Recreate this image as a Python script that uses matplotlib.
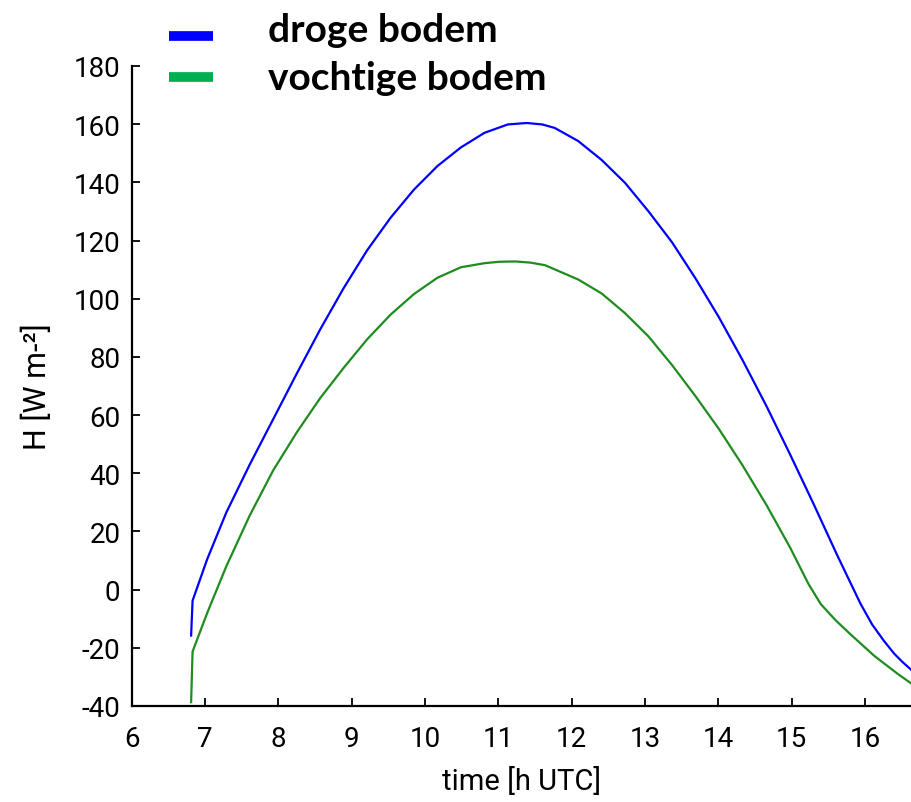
import matplotlib.pyplot as plt
from matplotlib.lines import Line2D

# droge bodem (blauw)
tijd_droog = [6.81, 6.83, 7.03, 7.29, 7.61, 7.93, 8.25, 8.57, 8.89, 9.21, 9.53, 9.85, 10.17, 10.49,
              10.81, 11.13, 11.39, 11.60, 11.77, 12.09, 12.41, 12.73, 13.05, 13.37, 13.69, 14.01,
              14.33, 14.66, 14.98, 15.30, 15.62, 15.94, 16.10, 16.26, 16.40, 16.51, 16.63]
H_droog = [-15.8, -3.8, 10.5, 26.5, 43.0, 58.6, 74.2, 89.4, 103.6, 116.6, 127.8, 137.5, 145.6, 152.0,
           157.0, 159.9, 160.4, 159.9, 158.7, 154.2, 147.7, 139.8, 130.0, 119.4, 107.0, 93.6,
           79.0, 63.0, 46.5, 29.5, 12.0, -4.8, -12.0, -17.6, -22.0, -24.8, -27.5]

# vochtige bodem (groen)
tijd_vocht = [6.81, 6.83, 7.03, 7.29, 7.61, 7.93, 8.25, 8.57, 8.89, 9.21, 9.53, 9.85, 10.17, 10.49,
              10.81, 11.02, 11.23, 11.44, 11.64, 12.09, 12.41, 12.73, 13.05, 13.37, 13.69, 14.01,
              14.33, 14.66, 14.98, 15.23, 15.40, 15.60, 15.81, 16.13, 16.45, 16.63]
H_vocht = [-38.7, -21.3, -8.0, 8.0, 25.5, 41.0, 54.0, 65.8, 76.2, 86.0, 94.5, 101.6, 107.2, 110.8,
           112.2, 112.7, 112.8, 112.4, 111.5, 106.6, 101.8, 95.0, 87.0, 77.2, 66.5, 55.2,
           42.8, 29.0, 14.5, 2.0, -5.0, -10.5, -15.5, -22.8, -29.0, -32.2]

labels = ['droge bodem', 'vochtige bodem']
legend_colors = ['#0000FF', '#00B050']

plt.rcParams['font.family'] = ['Roboto', 'DejaVu Sans']
plt.rcParams['axes.unicode_minus'] = False

fig = plt.figure(figsize=(9.11, 8.03), dpi=100)
ax = fig.add_axes([0.1446, 0.1196, 0.8554, 0.797])

ax.plot(tijd_droog, H_droog, color='#0000FF', lw=1.6)
ax.plot(tijd_vocht, H_vocht, color='#1E8C1E', lw=1.6)

ax.set_xlim(6, 16.63)
ax.set_ylim(-40, 180)
ax.set_xticks(range(6, 17))
ax.set_yticks(range(-40, 181, 20))
ax.spines['top'].set_visible(False)
ax.spines['right'].set_visible(False)
ax.spines['left'].set_linewidth(1.6)
ax.spines['bottom'].set_linewidth(1.6)
ax.tick_params(direction='in', length=6, width=1.3, labelsize=20)
ax.tick_params(axis='x', pad=14)
ax.tick_params(axis='y', pad=8)

ax.set_xlabel('time [h UTC]', fontsize=21, labelpad=10)
ax.set_ylabel('H [W m-²]', fontsize=22, labelpad=16)

# legenda boven de grafiek (posities in pixels van de figuur)
W, Hh = 911, 803
for i, (lab, col) in enumerate(zip(labels, legend_colors)):
    lijn_y = [37, 78][i]
    tekst_y = [42, 90][i]
    fig.add_artist(Line2D([169 / W, 213 / W], [1 - lijn_y / Hh, 1 - lijn_y / Hh],
                          color=col, lw=7, solid_capstyle='butt'))
    fig.text(268 / W, 1 - tekst_y / Hh, lab, family='Lato', weight='bold', size=28,
             va='baseline', ha='left')

plt.savefig('out.png', dpi=100)
